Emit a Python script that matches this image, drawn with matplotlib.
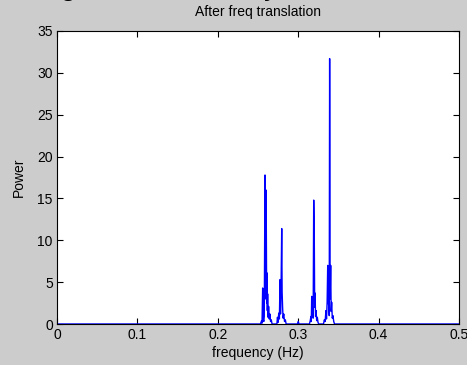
import matplotlib
matplotlib.use("Agg")
import matplotlib.pyplot as plt

# Spectrum after frequency translation
freq = [0.0, 0.253, 0.2545, 0.2550, 0.2558, 0.2565, 0.2572, 0.2578, 0.2587, 0.2594, 0.2601, 0.2608,
        0.2612, 0.2616, 0.2620, 0.2626, 0.2632, 0.2640, 0.2648, 0.2656, 0.2665, 0.2675,
        0.2735, 0.2742, 0.2750, 0.2758, 0.2766, 0.2774, 0.2780, 0.2786, 0.2795, 0.2800,
        0.2806, 0.2812, 0.2820, 0.2830, 0.2840, 0.2850,
        0.2990, 0.3000, 0.3010,
        0.3140, 0.3150, 0.3158, 0.3163, 0.3168, 0.3174, 0.3180, 0.3186, 0.3193, 0.3200,
        0.3205, 0.3210, 0.3216, 0.3222, 0.3230, 0.3238, 0.3246, 0.3255,
        0.3315, 0.3325, 0.3335, 0.3345, 0.3352, 0.3360, 0.3367, 0.3374, 0.3380, 0.3386,
        0.3391, 0.3397, 0.3404, 0.3410, 0.3416, 0.3424, 0.3432, 0.3442, 0.3452, 0.5]
power = [0.0, 0.0, 0.4, 0.1, 4.3, 0.6, 0.3, 0.9, 17.8, 3.0, 16.0, 2.5,
         6.1, 1.6, 3.6, 0.8, 2.1, 0.6, 1.2, 0.3, 0.5, 0.0,
         0.0, 0.8, 0.2, 1.3, 0.6, 5.3, 1.2, 3.5, 11.4, 3.8,
         2.0, 0.7, 1.2, 0.3, 0.5, 0.0,
         0.0, 0.3, 0.0,
         0.0, 0.4, 0.9, 0.3, 3.3, 1.0, 2.0, 0.7, 14.8, 10.5,
         2.0, 3.7, 0.9, 1.6, 0.4, 0.8, 0.2, 0.0,
         0.0, 0.5, 0.3, 1.6, 0.6, 2.6, 7.0, 2.4, 4.2, 1.0,
         31.7, 3.0, 7.0, 1.5, 2.6, 0.7, 1.0, 0.3, 0.0, 0.0]

xticks = [0, 0.1, 0.2, 0.3, 0.4, 0.5]
xticklabels = ["0", "0.1", "0.2", "0.3", "0.4", "0.5"]
yticks = [0, 5, 10, 15, 20, 25, 30, 35]
yticklabels = ["0", "5", "10", "15", "20", "25", "30", "35"]

plt.rcParams['font.family'] = ['Liberation Sans', 'DejaVu Sans']

fig = plt.figure(figsize=(4.67, 3.65), dpi=100, facecolor='#cccccc')
ax = fig.add_axes([57/467, 1 - 324/365, (459-57)/467, (324-31)/365])
ax.set_facecolor('white')
ax.plot(freq, power, color='#0000ff', linewidth=1.0)
ax.set_xlim(0, 0.5)
ax.set_ylim(0, 35)
ax.set_xticks(xticks)
ax.set_xticklabels(xticklabels)
ax.set_yticks(yticks)
ax.set_yticklabels(yticklabels)
ax.tick_params(direction='in', top=True, right=True, length=4, width=0.8,
               labelsize=10, colors='black', pad=3)
for s in ax.spines.values():
    s.set_linewidth(0.8)
ax.set_title("After freq translation", fontsize=10, pad=11)
ax.set_xlabel("frequency (Hz)", fontsize=10, labelpad=3)
ax.set_ylabel("Power", fontsize=10)
ax.yaxis.set_label_coords(-(57 - 26) / 402, 0.5)

# clipped caption text at top of image
fig.text(60/467, 1.016, "g", fontsize=22, va='baseline', ha='left')
fig.text(264/467, 1.016, "y", fontsize=22, va='baseline', ha='left')

fig.savefig("out.png", dpi=100, facecolor=fig.get_facecolor())
